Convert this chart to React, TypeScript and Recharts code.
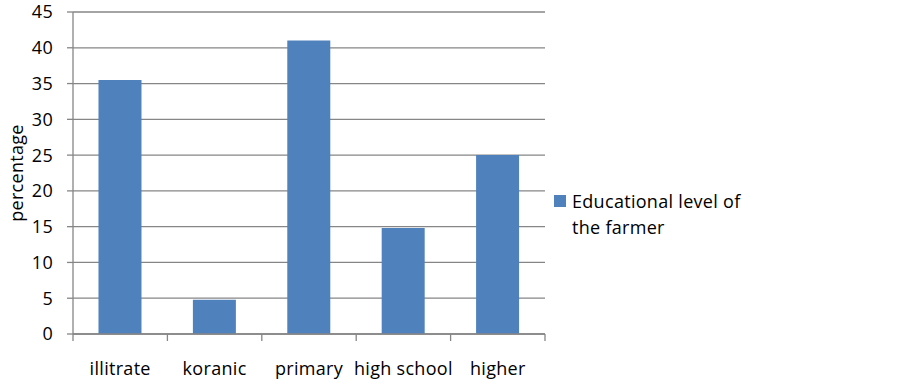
import React from "react";
import { BarChart, Bar, XAxis, YAxis, CartesianGrid, Legend, Label } from "recharts";

const categories = ["illitrate", "koranic", "primary", "high school", "higher"];
const values = [35.5, 4.8, 41, 14.8, 25];
const yTicks = [0, 5, 10, 15, 20, 25, 30, 35, 40, 45];
const seriesName = "Educational level of the farmer";

const data = categories.map((c, i) => ({ name: c, value: values[i] }));

const FONT = "'Open Sans', sans-serif";
const FS = 18;
const LS = 0.3;
const GRID = "#868686";
const BAR = "#4F81BD";

const W = 903;
const H = 387;
const PLOT_LEFT = 73;
const PLOT_RIGHT = 545;
const BAND = (PLOT_RIGHT - PLOT_LEFT) / categories.length;

const XTick = (props: any) => {
  const { x, y, payload, index } = props;
  const axisY = y - 8;
  const left = x - BAND / 2;
  const right = x + BAND / 2;
  return (
    <g>
      <line x1={left} x2={left} y1={axisY} y2={axisY + 7} stroke={GRID} strokeWidth={1.3} />
      {index === categories.length - 1 && (
        <line x1={right} x2={right} y1={axisY} y2={axisY + 7} stroke={GRID} strokeWidth={1.3} />
      )}
      <text x={x} y={axisY + 41} textAnchor="middle" fill="#000" fontSize={FS} fontFamily={FONT} letterSpacing={LS}>
        {payload.value}
      </text>
    </g>
  );
};

const LegendContent = () => (
  <div style={{ display: "flex", alignItems: "flex-start", fontFamily: FONT, fontSize: FS, letterSpacing: LS, color: "#000", lineHeight: "26px" }}>
    <div style={{ width: 12, height: 12, background: BAR, marginTop: 7, marginRight: 6, flex: "none" }} />
    <div style={{ width: 185 }}>{seriesName}</div>
  </div>
);

export default function App() {
  return (
    <div style={{ position: "absolute", left: 0, top: 0, width: W, height: H, background: "#fff" }}>
      <BarChart
        width={W}
        height={H}
        data={data}
        margin={{ top: 12, right: W - PLOT_RIGHT - 210, bottom: 13, left: 0 }}
        barCategoryGap="27%"
      >
        <CartesianGrid vertical={false} stroke={GRID} strokeWidth={1.3} />
        <XAxis
          dataKey="name"
          height={40}
          axisLine={{ stroke: GRID, strokeWidth: 1.3 }}
          tickLine={false}
          tick={<XTick />}
          interval={0}
        />
        <YAxis
          width={PLOT_LEFT}
          domain={[0, 45]}
          ticks={yTicks}
          interval={0}
          axisLine={{ stroke: GRID, strokeWidth: 1.3 }}
          tickLine={{ stroke: GRID, strokeWidth: 1.3 }}
          tickSize={6}
          tickMargin={14}
          tick={{ fill: "#000", fontSize: FS, fontFamily: FONT, letterSpacing: LS }}
        >
          <Label
            value="percentage"
            angle={-90}
            position="insideLeft"
            dx={12}
            style={{ fill: "#000", fontSize: FS, fontFamily: FONT, letterSpacing: LS, textAnchor: "middle" }}
          />
        </YAxis>
        <Legend
          layout="vertical"
          align="right"
          verticalAlign="middle"
          width={210}
          content={<LegendContent />}
          wrapperStyle={{ left: 554, top: 188, right: "auto", width: 210 }}
        />
        <Bar dataKey="value" name={seriesName} fill={BAR} isAnimationActive={false} />
      </BarChart>
    </div>
  );
}
